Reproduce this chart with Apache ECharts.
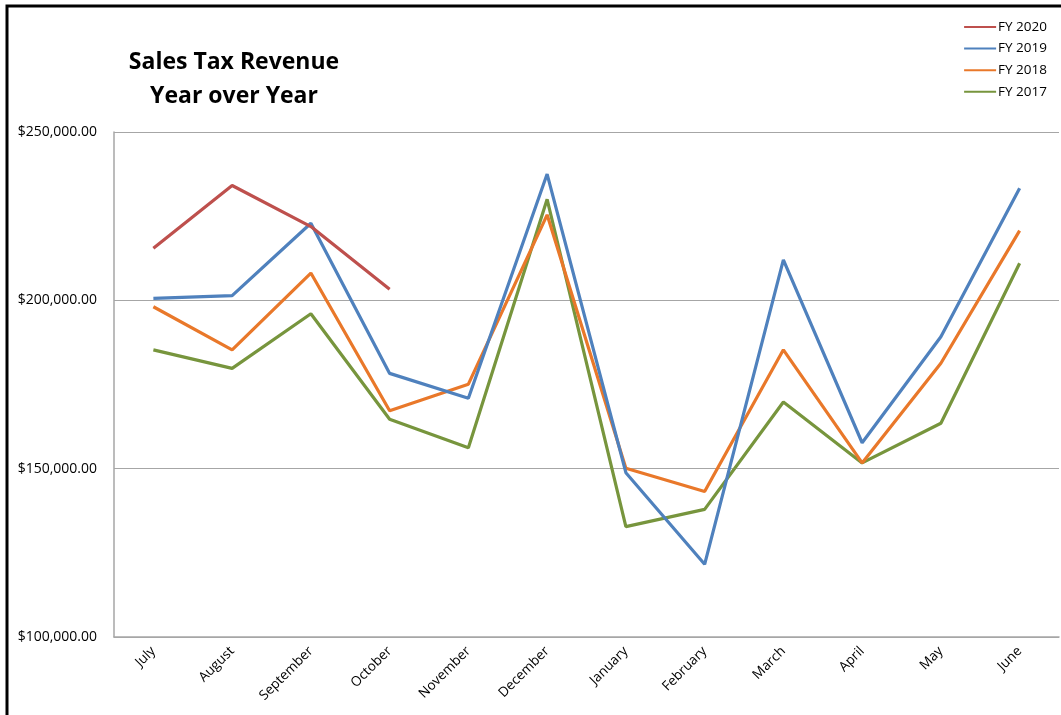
<!DOCTYPE html>
<html>
<head>
<meta charset="utf-8">
<title>Sales Tax Revenue Year over Year</title>
<script src="https://cdn.jsdelivr.net/npm/echarts@6/dist/echarts.min.js"></script>
<style>
  html, body { margin: 0; padding: 0; background: #ffffff; }
  #chart { width: 1061px; height: 715px; }
</style>
</head>
<body>
<div id="chart"></div>
<script>
// Fiscal year runs July through June
const months = ['July', 'August', 'September', 'October', 'November', 'December',
                'January', 'February', 'March', 'April', 'May', 'June'];

// Monthly sales tax revenue in dollars
const fy2020 = [215500, 234100, 221900, 203300, null, null, null, null, null, null, null, null];
const fy2019 = [200600, 201400, 222900, 178300, 170900, 237500, 148800, 121600, 212000, 157700, 189200, 233300];
const fy2018 = [198100, 185300, 208100, 167200, 175100, 225400, 150100, 143200, 185300, 151700, 181300, 220700];
const fy2017 = [185300, 179800, 196000, 164700, 156200, 230000, 132800, 137900, 169800, 151700, 163500, 211000];

const yTicks = { min: 100000, max: 250000, step: 50000 };

const seriesNames = ['FY 2020', 'FY 2019', 'FY 2018', 'FY 2017'];
const seriesData = [fy2020, fy2019, fy2018, fy2017];
const seriesColors = ['#BE504D', '#4F81BD', '#E9782A', '#77953D'];

function money(v) {
  return '$' + v.toLocaleString('en-US', { minimumFractionDigits: 2, maximumFractionDigits: 2 });
}

const font = '"Open Sans", "Liberation Sans", sans-serif';

const chart = echarts.init(document.getElementById('chart'), null, { renderer: 'canvas' });

chart.setOption({
  backgroundColor: '#ffffff',
  animation: false,
  graphic: [{
    type: 'rect',
    z: 100,
    silent: true,
    shape: { x: 7, y: 6, width: 1200, height: 900 },
    style: { fill: 'none', stroke: '#000000', lineWidth: 3 }
  }],
  title: {
    text: 'Sales Tax Revenue\nYear over Year',
    left: 229,
    top: 40,
    textAlign: 'center',
    textStyle: {
      fontFamily: font,
      fontWeight: 'bold',
      fontSize: 23,
      lineHeight: 34,
      color: '#000000'
    }
  },
  legend: {
    orient: 'vertical',
    right: 9,
    top: 15,
    itemWidth: 32,
    itemHeight: 14,
    itemGap: 7.6,
    data: seriesNames.map(n => ({
      name: n,
      icon: 'path://M0,6 L32,6 L32,8 L0,8 Z'
    })),
    textStyle: { fontFamily: font, fontSize: 13.5, color: '#000000', padding: [0, 0, 0, -3] }
  },
  grid: { left: 114, top: 132, right: 2, bottom: 78, containLabel: false },
  xAxis: {
    type: 'category',
    data: months,
    boundaryGap: true,
    axisLine: { show: true, lineStyle: { color: '#A6A6A6', width: 1.5 } },
    axisTick: { show: false },
    axisLabel: {
      rotate: 45,
      interval: 0,
      margin: 12,
      fontFamily: font,
      fontSize: 13.5,
      color: '#000000'
    },
    splitLine: { show: false }
  },
  yAxis: {
    type: 'value',
    min: yTicks.min,
    max: yTicks.max,
    interval: yTicks.step,
    axisLine: { show: true, lineStyle: { color: '#A6A6A6', width: 1.5 } },
    axisTick: { show: false },
    axisLabel: {
      margin: 17,
      fontFamily: font,
      fontSize: 14,
      color: '#000000',
      formatter: v => money(v)
    },
    splitLine: { show: true, lineStyle: { color: '#A6A6A6', width: 1.2 } }
  },
  series: seriesNames.map((name, i) => ({
    name: name,
    type: 'line',
    data: seriesData[i],
    symbol: 'none',
    connectNulls: false,
    color: seriesColors[i],
    lineStyle: { width: 3.2, color: seriesColors[i] },
    z: 10 - i
  }))
});
</script>
</body>
</html>
